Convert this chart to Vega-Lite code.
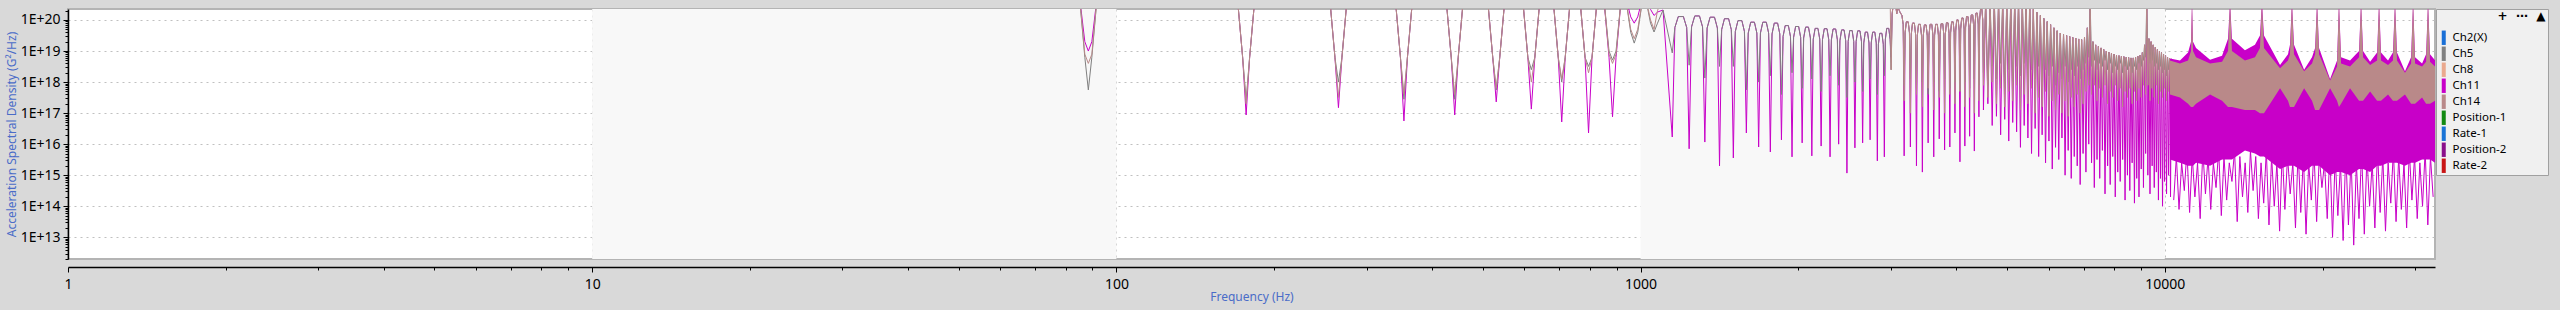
{
"$schema":"https://vega.github.io/schema/vega-lite/v6.json",
"width":2367,"height":250,
"autosize":{"type":"none"},
"padding":{"left":68,"top":9,"right":125,"bottom":51},
"background":"#d9d9d9",
"config":{
 "view":{"fill":"white","stroke":"#b4b4b4","strokeWidth":2},
 "font":"Noto Sans",
 "legend":{"orient":"none","legendX":2368,"legendY":0,"padding":2,"fillColor":"#f0f0f0","strokeColor":"#a0a0a0",
  "titleFont":"DejaVu Sans","titleFontSize":12,"titleColor":"#000","titleFontWeight":"bold","titlePadding":9,
  "labelFont":"Noto Sans","labelFontSize":11.5,"labelColor":"#000","labelOffset":3,
  "symbolType":"M-0.67,-2.4H0.67V2.4H-0.67Z","symbolSize":36,"symbolStrokeWidth":0,"rowPadding":1},
 "axisY":{"orient":"left","tickCount":20,"labelOverlap":false,"labelBound":false,"labelFlush":false,
   "labelExpr":"abs(log(datum.value)/LN10 - round(log(datum.value)/LN10)) < 1e-6 ? '1E+' + round(log(datum.value)/LN10) : ''",
   "tickColor":"#000","domainColor":"#000","domainWidth":1.5,"labelFontSize":14,"labelColor":"#000","labelPadding":3,"labelFont":"Noto Sans",
   "grid":true,"gridColor":"#c0c0c0","gridDash":[2,4],
   "titleColor":"#4a6cc8","titleFontSize":12,"titleFontWeight":"normal","titlePadding":2,"titleFont":"Noto Sans"}
},
"datasets":{
"D":[{"f":10,"f2":100},{"f":1000,"f2":10000}],
"L":[
{"f":84.98,"m":6.3e20,"g":6.3e20,"r":6.3e20},{"f":87.05,"m":2e19,"g":6.3e18,"r":7.9e18},{"f":88.4,"m":1e19,"g":5.6e17,"r":4e18},{"f":89.77,"m":2e19,"g":6.3e18,"r":7.9e18},{"f":91.96,"m":6.3e20,"g":6.3e20,"r":6.3e20},
{"f":169.96,"m":6.3e20,"g":6.3e20,"r":6.3e20},{"f":174.1,"m":6.3e18,"g":6.3e18,"r":6.3e18},{"f":176.8,"m":8.7e16,"g":2.6e17,"r":2e17},{"f":179.54,"m":6.3e18,"g":6.3e18,"r":6.3e18},{"f":183.92,"m":6.3e20,"g":6.3e20,"r":6.3e20},
{"f":254.94,"m":6.3e20,"g":6.3e20,"r":6.3e20},{"f":261.15,"m":6.3e18,"g":6.3e18,"r":6.3e18},{"f":265.2,"m":1.5e17,"g":1e18,"r":3.2e17},{"f":269.31,"m":6.3e18,"g":6.3e18,"r":6.3e18},{"f":275.89,"m":6.3e20,"g":6.3e20,"r":6.3e20},
{"f":339.92,"m":6.3e20,"g":6.3e20,"r":6.3e20},{"f":348.2,"m":6.3e18,"g":6.3e18,"r":6.3e18},{"f":353.6,"m":5.6e16,"g":2.8e17,"r":4e17},{"f":359.08,"m":6.3e18,"g":6.3e18,"r":6.3e18},{"f":367.85,"m":6.3e20,"g":6.3e20,"r":6.3e20},
{"f":424.9,"m":6.3e20,"g":6.3e20,"r":6.3e20},{"f":435.25,"m":6.3e18,"g":6.3e18,"r":6.3e18},{"f":442,"m":8.7e16,"g":2.8e17,"r":4e17},{"f":448.85,"m":6.3e18,"g":6.3e18,"r":6.3e18},{"f":459.81,"m":6.3e20,"g":6.3e20,"r":6.3e20},
{"f":509.87,"m":6.3e20,"g":6.3e20,"r":6.3e20},{"f":522.31,"m":6.3e18,"g":6.3e18,"r":6.3e18},{"f":530.4,"m":2.3e17,"g":5.6e17,"r":6.3e17},{"f":538.62,"m":6.3e18,"g":6.3e18,"r":6.3e18},{"f":551.77,"m":6.3e20,"g":6.3e20,"r":6.3e20},
{"f":594.85,"m":6.3e20,"g":6.3e20,"r":6.3e20},{"f":609.36,"m":6.3e18,"g":6.3e18,"r":6.3e18},{"f":618.8,"m":1.35e17,"g":2.5e18,"r":1e18},{"f":628.39,"m":6.3e18,"g":6.3e18,"r":6.3e18},{"f":643.74,"m":6.3e20,"g":6.3e20,"r":6.3e20},
{"f":679.83,"m":6.3e20,"g":6.3e20,"r":6.3e20},{"f":696.41,"m":6.3e18,"g":6.3e18,"r":6.3e18},{"f":707.2,"m":5.2e16,"g":1e18,"r":1.26e18},{"f":718.16,"m":6.3e18,"g":6.3e18,"r":6.3e18},{"f":735.7,"m":6.3e20,"g":6.3e20,"r":6.3e20},
{"f":764.81,"m":6.3e20,"g":6.3e20,"r":6.3e20},{"f":783.46,"m":6.3e18,"g":6.3e18,"r":6.3e18},{"f":795.6,"m":2.3e16,"g":3.2e18,"r":2e18},{"f":807.93,"m":6.3e18,"g":6.3e18,"r":6.3e18},{"f":827.66,"m":6.3e20,"g":6.3e20,"r":6.3e20},
{"f":849.79,"m":6.3e20,"g":6.3e20,"r":6.3e20},{"f":870.51,"m":6.3e18,"g":1e19,"r":7.9e18},{"f":884,"m":7.6e16,"g":5.1e18,"r":4e18},{"f":897.7,"m":6.3e18,"g":1e19,"r":7.9e18},{"f":919.63,"m":6.3e20,"g":6.3e20,"r":6.3e20},
{"f":934.77,"m":6.3e20,"g":6.3e20,"r":6.3e20},{"f":957.56,"m":1.26e20,"g":4e19,"r":5e19},{"f":972.4,"m":7.9e19,"g":1.8e19,"r":2.5e19},{"f":987.47,"m":1.26e20,"g":4e19,"r":5e19},{"f":1011.59,"m":6.3e20,"g":6.3e20,"r":6.3e20},
{"f":1019.75,"m":6.3e20,"g":6.3e20,"r":6.3e20},{"f":1044.61,"m":2.2e20,"g":7.9e19,"r":1e20},{"f":1060.8,"m":1.4e20,"g":4.1e19,"r":5e19},{"f":1077.2,"m":1.8e20,"g":7.9e19,"r":2e20},{"f":1103.6,"m":2.1e20,"g":2.1e20,"r":6.3e20},
{"f":1149.2,"m":1.7e16,"g":8.7e18,"r":6.3e20},{"f":1162.5,"m":5.75e19,"g":5.75e19,"r":6.3e20},{"f":1180.1,"m":1.29e20,"g":1.29e20,"r":6.3e20},{"f":1206.7,"m":1.29e20,"g":1.29e20,"r":6.3e20},{"f":1224.3,"m":5.75e19,"g":5.75e19,"r":6.3e20},
{"f":1237.6,"m":7.1e15,"g":3.5e18,"r":6.3e20},{"f":1250.9,"m":6.03e19,"g":6.03e19,"r":6.3e20},{"f":1268.5,"m":1.35e20,"g":1.35e20,"r":6.3e20},{"f":1295.1,"m":1.35e20,"g":1.35e20,"r":6.3e20},{"f":1312.7,"m":6.03e19,"g":6.03e19,"r":6.3e20},
{"f":1326,"m":1.17e16,"g":1.35e18,"r":6.3e20},{"f":1339.3,"m":5.5e19,"g":5.5e19,"r":6.3e20},{"f":1356.9,"m":1.23e20,"g":1.23e20,"r":6.3e20},{"f":1383.5,"m":1.23e20,"g":1.23e20,"r":6.3e20},{"f":1401.1,"m":5.5e19,"g":5.5e19,"r":6.3e20},
{"f":1414.4,"m":2e15,"g":3.2e18,"r":6.3e20},{"f":1427.7,"m":4.9e19,"g":4.9e19,"r":6.3e20},{"f":1445.3,"m":1.1e20,"g":1.1e20,"r":6.3e20},{"f":1471.9,"m":1.1e20,"g":1.1e20,"r":6.3e20},{"f":1489.5,"m":4.9e19,"g":4.9e19,"r":6.3e20},
{"f":1502.8,"m":3.6e15,"g":3.2e18,"r":6.3e20},{"f":1516.1,"m":4.27e19,"g":4.27e19,"r":6.3e20},{"f":1533.7,"m":9.55e19,"g":9.55e19,"r":6.3e20},{"f":1560.3,"m":9.55e19,"g":9.55e19,"r":6.3e20},{"f":1577.9,"m":4.27e19,"g":4.27e19,"r":6.3e20},
{"f":1591.2,"m":2.3e16,"g":5.6e17,"r":6.3e20},{"f":1604.5,"m":3.8e19,"g":3.8e19,"r":6.3e20},{"f":1622.1,"m":8.5e19,"g":8.5e19,"r":6.3e20},{"f":1648.7,"m":8.5e19,"g":8.5e19,"r":6.3e20},{"f":1666.3,"m":3.8e19,"g":3.8e19,"r":6.3e20},
{"f":1679.6,"m":8.1e15,"g":1e18,"r":6.3e20},{"f":1692.9,"m":3.8e19,"g":3.8e19,"r":6.3e20},{"f":1710.5,"m":8.5e19,"g":8.5e19,"r":6.3e20},{"f":1737.1,"m":8.5e19,"g":8.5e19,"r":6.3e20},{"f":1754.7,"m":3.8e19,"g":3.8e19,"r":6.3e20},
{"f":1768,"m":5.6e15,"g":1.6e18,"r":6.3e20},{"f":1781.3,"m":3.55e19,"g":3.55e19,"r":6.3e20},{"f":1798.9,"m":7.94e19,"g":7.94e19,"r":6.3e20},{"f":1825.5,"m":7.94e19,"g":7.94e19,"r":6.3e20},{"f":1843.1,"m":3.55e19,"g":3.55e19,"r":6.3e20},
{"f":1856.4,"m":1.38e16,"g":4e17,"r":6.3e20},{"f":1869.7,"m":2.95e19,"g":2.95e19,"r":6.3e20},{"f":1887.3,"m":6.6e19,"g":6.6e19,"r":6.3e20},{"f":1913.9,"m":6.6e19,"g":6.6e19,"r":6.3e20},{"f":1931.5,"m":2.95e19,"g":2.95e19,"r":6.3e20},
{"f":1944.8,"m":3.9e15,"g":2e18,"r":6.3e20},{"f":1958.1,"m":2.75e19,"g":2.75e19,"r":6.3e20},{"f":1975.7,"m":6.17e19,"g":6.17e19,"r":6.3e20},{"f":2002.3,"m":6.17e19,"g":6.17e19,"r":6.3e20},{"f":2019.9,"m":2.75e19,"g":2.75e19,"r":6.3e20},
{"f":2033.2,"m":1.1e16,"g":6.3e17,"r":6.3e20},{"f":2046.5,"m":2.63e19,"g":2.63e19,"r":6.3e20},{"f":2064.1,"m":5.9e19,"g":5.9e19,"r":6.3e20},{"f":2090.7,"m":5.9e19,"g":5.9e19,"r":6.3e20},{"f":2108.3,"m":2.63e19,"g":2.63e19,"r":6.3e20},
{"f":2121.6,"m":4.2e15,"g":1.26e18,"r":6.3e20},{"f":2134.9,"m":2.4e19,"g":2.4e19,"r":6.3e20},{"f":2152.5,"m":5.37e19,"g":5.37e19,"r":6.3e20},{"f":2179.1,"m":5.37e19,"g":5.37e19,"r":6.3e20},{"f":2196.7,"m":2.4e19,"g":2.4e19,"r":6.3e20},
{"f":2210,"m":8.7e15,"g":5e17,"r":6.3e20},{"f":2223.3,"m":2.34e19,"g":2.34e19,"r":6.3e20},{"f":2240.9,"m":5.25e19,"g":5.25e19,"r":6.3e20},{"f":2267.5,"m":5.25e19,"g":5.25e19,"r":6.3e20},{"f":2285.1,"m":2.34e19,"g":2.34e19,"r":6.3e20},
{"f":2298.4,"m":3.9e15,"g":1.6e18,"r":6.3e20},{"f":2311.7,"m":2.29e19,"g":2.29e19,"r":6.3e20},{"f":2329.3,"m":5.13e19,"g":5.13e19,"r":6.3e20},{"f":2355.9,"m":5.13e19,"g":5.13e19,"r":6.3e20},{"f":2373.5,"m":2.29e19,"g":2.29e19,"r":6.3e20},
{"f":2386.8,"m":1e16,"g":7.9e17,"r":6.3e20},{"f":2400.1,"m":2.14e19,"g":2.14e19,"r":6.3e20},{"f":2417.7,"m":4.79e19,"g":4.79e19,"r":6.3e20},{"f":2444.3,"m":4.79e19,"g":4.79e19,"r":6.3e20},{"f":2461.9,"m":2.14e19,"g":2.14e19,"r":6.3e20},
{"f":2475.2,"m":1.17e15,"g":3.2e17,"r":6.3e20},{"f":2488.5,"m":2.04e19,"g":2.04e19,"r":6.3e20},{"f":2506.1,"m":4.57e19,"g":4.57e19,"r":6.3e20},{"f":2532.7,"m":4.57e19,"g":4.57e19,"r":6.3e20},{"f":2550.3,"m":2.04e19,"g":2.04e19,"r":6.3e20},
{"f":2563.6,"m":7.6e15,"g":1e18,"r":6.3e20},{"f":2576.9,"m":2e19,"g":2e19,"r":6.3e20},{"f":2594.5,"m":4.47e19,"g":4.47e19,"r":6.3e20},{"f":2621.1,"m":4.47e19,"g":4.47e19,"r":6.3e20},{"f":2638.7,"m":2e19,"g":2e19,"r":6.3e20},
{"f":2652,"m":1.1e16,"g":5e17,"r":6.3e20},{"f":2665.3,"m":1.82e19,"g":1.82e19,"r":6.3e20},{"f":2682.9,"m":4.07e19,"g":4.07e19,"r":6.3e20},{"f":2709.5,"m":4.07e19,"g":4.07e19,"r":6.3e20},{"f":2727.1,"m":1.82e19,"g":1.82e19,"r":6.3e20},
{"f":2740.4,"m":1.38e16,"g":1.26e18,"r":6.3e20},{"f":2753.7,"m":1.82e19,"g":1.82e19,"r":6.3e20},{"f":2771.3,"m":4.07e19,"g":4.07e19,"r":6.3e20},{"f":2797.9,"m":4.07e19,"g":4.07e19,"r":6.3e20},{"f":2815.5,"m":1.82e19,"g":1.82e19,"r":6.3e20},
{"f":2828.8,"m":2.9e15,"g":4e17,"r":6.3e20},{"f":2842.1,"m":1.66e19,"g":1.66e19,"r":6.3e20},{"f":2859.7,"m":3.72e19,"g":3.72e19,"r":6.3e20},{"f":2886.3,"m":3.72e19,"g":3.72e19,"r":6.3e20},{"f":2903.9,"m":1.66e19,"g":1.66e19,"r":6.3e20},
{"f":2917.2,"m":3.9e15,"g":1.6e18,"r":6.3e20},{"f":2930.5,"m":2.4e19,"g":2.4e19,"r":6.3e20},{"f":2948.1,"m":5.37e19,"g":5.37e19,"r":6.3e20},{"f":2974.7,"m":5.37e19,"g":5.37e19,"r":6.3e20},{"f":2992.3,"m":2.4e19,"g":2.4e19,"r":6.3e20},
{"f":3005.6,"m":6.3e18,"g":2.5e18,"r":2.5e18},{"f":3018.9,"m":1.58e20,"g":1.58e20,"r":1.58e20},{"f":3036.5,"m":3.55e20,"g":3.55e20,"r":3.55e20},{"f":3063.1,"m":3.55e20,"g":3.55e20,"r":3.55e20},{"f":3080.7,"m":1.58e20,"g":1.58e20,"r":1.58e20},
{"f":3094,"m":2.82e20,"g":2.82e20,"r":2.82e20},{"f":3107.3,"m":2.24e20,"g":2.24e20,"r":2.24e20},{"f":3124.9,"m":1.78e20,"g":1.78e20,"r":1.78e20},{"f":3151.5,"m":1.41e20,"g":1.41e20,"r":1.41e20},{"f":3169.1,"m":7.1e19,"g":7.1e19,"r":7.1e19},
{"f":3182.4,"m":4.2e15,"g":7.9e17,"r":2.5e17},{"f":3195.7,"m":3.89e19,"g":3.89e19,"r":3.89e19},{"f":3213.3,"m":8.7e19,"g":8.7e19,"r":8.7e19},{"f":3239.9,"m":8.7e19,"g":8.7e19,"r":8.7e19},{"f":3257.5,"m":3.89e19,"g":3.89e19,"r":3.89e19},
{"f":3270.8,"m":8.1e15,"g":1.26e18,"r":1e17},{"f":3284.1,"m":3.55e19,"g":3.55e19,"r":3.55e19},{"f":3301.7,"m":7.94e19,"g":7.94e19,"r":7.94e19},{"f":3328.3,"m":7.94e19,"g":7.94e19,"r":7.94e19},{"f":3345.9,"m":3.55e19,"g":3.55e19,"r":3.55e19},
{"f":3359.2,"m":2e15,"g":6.3e17,"r":4e17},{"f":3372.5,"m":3.24e19,"g":3.24e19,"r":3.24e19},{"f":3390.1,"m":7.24e19,"g":7.24e19,"r":7.24e19},{"f":3416.7,"m":7.24e19,"g":7.24e19,"r":7.24e19},{"f":3434.3,"m":3.24e19,"g":3.24e19,"r":3.24e19},
{"f":3447.6,"m":1.26e15,"g":1e18,"r":1.6e17},{"f":3460.9,"m":3.09e19,"g":3.09e19,"r":3.09e19},{"f":3478.5,"m":6.92e19,"g":6.92e19,"r":6.92e19},{"f":3505.1,"m":6.92e19,"g":6.92e19,"r":6.92e19},{"f":3522.7,"m":3.09e19,"g":3.09e19,"r":3.09e19},
{"f":3536,"m":1.1e16,"g":4e17,"r":6.3e17},{"f":3549.3,"m":3.24e19,"g":3.24e19,"r":3.24e19},{"f":3566.9,"m":7.24e19,"g":7.24e19,"r":7.24e19},{"f":3593.5,"m":7.24e19,"g":7.24e19,"r":7.24e19},{"f":3611.1,"m":3.24e19,"g":3.24e19,"r":3.24e19},
{"f":3624.4,"m":3.9e15,"g":1e18,"r":1.26e17},{"f":3637.7,"m":3.24e19,"g":3.24e19,"r":3.24e19},{"f":3655.3,"m":7.24e19,"g":7.24e19,"r":7.24e19},{"f":3681.9,"m":7.24e19,"g":7.24e19,"r":7.24e19},{"f":3699.5,"m":3.24e19,"g":3.24e19,"r":3.24e19},
{"f":3712.8,"m":1.48e16,"g":5e17,"r":3.2e17},{"f":3726.1,"m":3.39e19,"g":3.39e19,"r":3.39e19},{"f":3743.7,"m":7.59e19,"g":7.59e19,"r":7.59e19},{"f":3770.3,"m":7.59e19,"g":7.59e19,"r":7.59e19},{"f":3787.9,"m":3.39e19,"g":3.39e19,"r":3.39e19},
{"f":3801.2,"m":6.5e15,"g":1.26e18,"r":1e17},{"f":3814.5,"m":3.63e19,"g":3.63e19,"r":3.63e19},{"f":3832.1,"m":8.13e19,"g":8.13e19,"r":8.13e19},{"f":3858.7,"m":8.13e19,"g":8.13e19,"r":8.13e19},{"f":3876.3,"m":3.63e19,"g":3.63e19,"r":3.63e19},
{"f":3889.6,"m":8.1e15,"g":6.3e17,"r":4e17},{"f":3902.9,"m":3.89e19,"g":3.89e19,"r":3.89e19},{"f":3920.5,"m":8.7e19,"g":8.7e19,"r":8.7e19},{"f":3947.1,"m":8.7e19,"g":8.7e19,"r":8.7e19},{"f":3964.7,"m":3.89e19,"g":3.89e19,"r":3.89e19},
{"f":3978,"m":2.3e16,"g":1e18,"r":2e17},{"f":3991.3,"m":4.47e19,"g":4.47e19,"r":4.47e19},{"f":4008.9,"m":1e20,"g":1e20,"r":1e20},{"f":4035.5,"m":1e20,"g":1e20,"r":1e20},{"f":4053.1,"m":4.47e19,"g":4.47e19,"r":4.47e19},
{"f":4066.4,"m":2.7e15,"g":5e17,"r":5e17},{"f":4079.7,"m":5.13e19,"g":5.13e19,"r":5.13e19},{"f":4097.3,"m":1.15e20,"g":1.15e20,"r":1.15e20},{"f":4123.9,"m":1.15e20,"g":1.15e20,"r":1.15e20},{"f":4141.5,"m":5.13e19,"g":5.13e19,"r":5.13e19},
{"f":4154.8,"m":8.7e15,"g":1e18,"r":1.6e17},{"f":4168.1,"m":5.75e19,"g":5.75e19,"r":5.75e19},{"f":4185.7,"m":1.29e20,"g":1.29e20,"r":1.29e20},{"f":4212.3,"m":1.29e20,"g":1.29e20,"r":1.29e20},{"f":4229.9,"m":5.75e19,"g":5.75e19,"r":5.75e19},
{"f":4243.2,"m":1.8e16,"g":6.3e17,"r":3.2e17},{"f":4256.5,"m":6.46e19,"g":6.46e19,"r":6.46e19},{"f":4274.1,"m":1.45e20,"g":1.45e20,"r":1.45e20},{"f":4300.7,"m":1.45e20,"g":1.45e20,"r":1.45e20},{"f":4318.3,"m":6.46e19,"g":6.46e19,"r":6.46e19},
{"f":4331.6,"m":6e15,"g":1.26e18,"r":1e17},{"f":4344.9,"m":7.41e19,"g":7.41e19,"r":7.41e19},{"f":4362.5,"m":1.66e20,"g":1.66e20,"r":1.66e20},{"f":4389.1,"m":1.66e20,"g":1.66e20,"r":1.66e20},{"f":4406.7,"m":7.41e19,"g":7.41e19,"r":7.41e19},
{"f":4420,"m":7.6e16,"g":7.9e17,"r":2.5e17},{"f":4433.3,"m":1e20,"g":1e20,"r":1e20},{"f":4451,"m":2.24e20,"g":2.24e20,"r":2.24e20},{"f":4477.5,"m":2.24e20,"g":2.24e20,"r":2.24e20},{"f":4495.1,"m":1e20,"g":1e20,"r":1e20},
{"f":4508.4,"m":1.26e17,"g":2e18,"r":7.9e17},{"f":4552.6,"m":4e20,"g":4e20,"r":4e20},
{"f":4596.8,"m":2e17,"g":7.9e17,"r":3.2e17},{"f":4641,"m":4e20,"g":4e20,"r":4e20},
{"f":4685.2,"m":4e16,"g":3.2e18,"r":1e18},{"f":4729.4,"m":4e20,"g":4e20,"r":4e20},
{"f":4773.6,"m":7.9e16,"g":1.26e18,"r":2e17},{"f":4817.8,"m":4e20,"g":4e20,"r":4e20},
{"f":4862,"m":2e16,"g":4e18,"r":6.3e17},{"f":4906.2,"m":4e20,"g":4e20,"r":4e20},
{"f":4950.4,"m":6.3e16,"g":6.3e17,"r":1.58e17},{"f":4994.6,"m":4e20,"g":4e20,"r":4e20},
{"f":5038.8,"m":1.26e16,"g":2.5e18,"r":5e17},{"f":5083,"m":4e20,"g":4e20,"r":4e20},
{"f":5127.2,"m":5e16,"g":1e18,"r":2.5e17},{"f":5171.4,"m":4e20,"g":4e20,"r":4e20},
{"f":5215.6,"m":2.5e16,"g":3.2e18,"r":7.9e17},{"f":5259.8,"m":4e20,"g":4e20,"r":4e20},
{"f":5304,"m":7.9e15,"g":1.58e18,"r":1.26e17},{"f":5348.2,"m":4e20,"g":4e20,"r":4e20},
{"f":5392.4,"m":4e16,"g":4e18,"r":4e17},{"f":5436.6,"m":4e20,"g":4e20,"r":4e20},
{"f":5480.8,"m":1.58e16,"g":7.9e17,"r":2e17},{"f":5525,"m":4e20,"g":4e20,"r":4e20},
{"f":5569.2,"m":5e15,"g":2.5e18,"r":6.3e17},{"f":5613.4,"m":2.24e20,"g":2.24e20,"r":2.24e20},
{"f":5657.6,"m":3.2e16,"g":1.26e18,"r":1e17},{"f":5701.8,"m":1.78e20,"g":1.78e20,"r":1.78e20},
{"f":5746,"m":4e15,"g":3.2e18,"r":3.2e17},{"f":5790.2,"m":1.41e20,"g":1.41e20,"r":1.41e20},
{"f":5834.4,"m":2e16,"g":1e18,"r":1.58e17},{"f":5878.6,"m":1.12e20,"g":1.12e20,"r":1.12e20},
{"f":5922.8,"m":2.5e15,"g":2.5e18,"r":5e17},{"f":5967,"m":8.9e19,"g":8.9e19,"r":8.9e19},
{"f":6011.2,"m":1.26e16,"g":1.58e18,"r":7.9e16},{"f":6055.4,"m":7.1e19,"g":7.1e19,"r":7.1e19},
{"f":6099.6,"m":1.58e15,"g":3.2e18,"r":2.5e17},{"f":6143.8,"m":5.6e19,"g":5.6e19,"r":5.6e19},
{"f":6188,"m":7.9e15,"g":7.9e17,"r":1.26e17},{"f":6232.2,"m":4.5e19,"g":4.5e19,"r":4.5e19},
{"f":6276.4,"m":3.2e15,"g":2e18,"r":4e17},{"f":6320.6,"m":3.8e19,"g":3.8e19,"r":3.8e19},
{"f":6364.8,"m":1.58e16,"g":1.26e18,"r":1e17},{"f":6409,"m":3.47e19,"g":3.47e19,"r":3.47e19},
{"f":6453.2,"m":1e15,"g":3.2e18,"r":2.5e17},{"f":6497.4,"m":3.16e19,"g":3.16e19,"r":3.16e19},
{"f":6541.6,"m":6.3e15,"g":1e18,"r":7.9e16},{"f":6585.8,"m":2.95e19,"g":2.95e19,"r":2.95e19},
{"f":6630,"m":7.9e14,"g":2.5e18,"r":3.2e17},{"f":6674.2,"m":2.75e19,"g":2.75e19,"r":2.75e19},
{"f":6718.4,"m":4e15,"g":1.58e18,"r":1.58e17},{"f":6762.6,"m":2.63e19,"g":2.63e19,"r":2.63e19},
{"f":6806.8,"m":2e15,"g":3.2e18,"r":4e17},{"f":6851,"m":2.45e19,"g":2.45e19,"r":2.45e19},
{"f":6895.2,"m":5e14,"g":1.26e18,"r":1e17},{"f":6939.4,"m":2.34e19,"g":2.34e19,"r":2.34e19},
{"f":6983.6,"m":5e15,"g":2.5e18,"r":2e17},{"f":7027.8,"m":2.82e19,"g":2.82e19,"r":2.82e19},
{"f":7072,"m":1.26e15,"g":4e18,"r":5e17},{"f":7116.2,"m":5.6e19,"g":5.6e19,"r":5.6e19},
{"f":7160.4,"m":1e16,"g":6.3e18,"r":7.9e17},{"f":7204.6,"m":4e20,"g":4e20,"r":4e20},
{"f":7248.8,"m":2.5e15,"g":3.2e18,"r":4e17},{"f":7293,"m":2e19,"g":2e19,"r":2e19},
{"f":7337.2,"m":4e14,"g":5e18,"r":7.9e17},{"f":7381.4,"m":1.58e19,"g":1.58e19,"r":1.58e19},
{"f":7425.6,"m":3.2e15,"g":2.5e18,"r":2.5e17},{"f":7469.8,"m":1.41e19,"g":1.41e19,"r":1.41e19},
{"f":7514,"m":7.9e14,"g":4e18,"r":6.3e17},{"f":7558.2,"m":1.26e19,"g":1.26e19,"r":1.26e19},
{"f":7602.4,"m":6.3e15,"g":3.2e18,"r":3.2e17},{"f":7646.6,"m":1.12e19,"g":1.12e19,"r":1.12e19},
{"f":7690.8,"m":2.5e14,"g":5e18,"r":7.9e17},{"f":7735,"m":1e19,"g":1e19,"r":1e19},
{"f":7779.2,"m":2e15,"g":2.5e18,"r":2e17},{"f":7823.4,"m":9.1e18,"g":9.1e18,"r":9.1e18},
{"f":7867.6,"m":5e14,"g":4e18,"r":5e17},{"f":7911.8,"m":8.5e18,"g":8.5e18,"r":8.5e18},
{"f":7956,"m":4e15,"g":2e18,"r":3.2e17},{"f":8000.2,"m":7.9e18,"g":7.9e18,"r":7.9e18},
{"f":8044.4,"m":2e14,"g":3.2e18,"r":7.9e17},{"f":8088.6,"m":7.4e18,"g":7.4e18,"r":7.4e18},
{"f":8132.8,"m":1.26e15,"g":2.5e18,"r":2.5e17},{"f":8177,"m":7.1e18,"g":7.1e18,"r":7.1e18},
{"f":8221.2,"m":6.3e14,"g":4e18,"r":6.3e17},{"f":8265.4,"m":6.8e18,"g":6.8e18,"r":6.8e18},
{"f":8309.6,"m":3.2e15,"g":2e18,"r":1.58e17},{"f":8353.8,"m":6.6e18,"g":6.6e18,"r":6.6e18},
{"f":8398,"m":1.58e14,"g":3.2e18,"r":5e17},{"f":8442.2,"m":6.3e18,"g":6.3e18,"r":6.3e18},
{"f":8486.4,"m":1e15,"g":2.5e18,"r":3.2e17},{"f":8530.6,"m":6.2e18,"g":6.2e18,"r":6.2e18},
{"f":8574.8,"m":3.2e14,"g":3.2e18,"r":6.3e17},{"f":8619,"m":6e18,"g":6e18,"r":6e18},
{"f":8663.2,"m":2.5e15,"g":2e18,"r":2e17},{"f":8707.4,"m":6e18,"g":6e18,"r":6e18},
{"f":8751.6,"m":1.26e14,"g":3.2e18,"r":5e17},{"f":8795.8,"m":6.3e18,"g":6.3e18,"r":6.3e18},
{"f":8840,"m":7.9e14,"g":2.5e18,"r":2.5e17},{"f":8884.2,"m":6.8e18,"g":6.8e18,"r":6.8e18},
{"f":8928.4,"m":2e14,"g":4e18,"r":6.3e17},{"f":8972.6,"m":7.4e18,"g":7.4e18,"r":7.4e18},
{"f":9016.8,"m":1.58e15,"g":3.2e18,"r":3.2e17},{"f":9061,"m":8.9e18,"g":8.9e18,"r":8.9e18},
{"f":9105.2,"m":4e14,"g":5e18,"r":7.9e17},{"f":9149.4,"m":1.58e19,"g":1.58e19,"r":1.58e19},
{"f":9193.6,"m":5e15,"g":6.3e18,"r":4e17},{"f":9237.8,"m":4e20,"g":4e20,"r":4e20},
{"f":9282,"m":1e15,"g":5e18,"r":7.9e17},{"f":9326.2,"m":2.5e19,"g":2.5e19,"r":2.5e19},
{"f":9370.4,"m":2.5e14,"g":4e18,"r":2.5e17},{"f":9414.6,"m":2e19,"g":2e19,"r":2e19},
{"f":9458.8,"m":2e15,"g":5e18,"r":6.3e17},{"f":9503,"m":1.58e19,"g":1.58e19,"r":1.58e19},
{"f":9547.2,"m":4e14,"g":3.2e18,"r":3.2e17},{"f":9591.4,"m":1.32e19,"g":1.32e19,"r":1.32e19},
{"f":9635.6,"m":1.26e15,"g":4e18,"r":7.9e17},{"f":9679.8,"m":1.12e19,"g":1.12e19,"r":1.12e19},
{"f":9724,"m":1.58e14,"g":2.5e18,"r":2e17},{"f":9768.2,"m":1e19,"g":1e19,"r":1e19},
{"f":9812.4,"m":7.9e14,"g":3.2e18,"r":5e17},{"f":9856.6,"m":8.9e18,"g":8.9e18,"r":8.9e18},
{"f":9900.8,"m":1e14,"g":2e18,"r":3.2e17},{"f":9945,"m":7.9e18,"g":7.9e18,"r":7.9e18},
{"f":9989.2,"m":6.3e14,"g":2.5e18,"r":6.3e17},{"f":10033.4,"m":7.1e18,"g":7.1e18,"r":7.1e18},
{"f":10077.6,"m":2.5e14,"g":1.58e18,"r":2.5e17},{"f":10121.8,"m":6.3e18,"g":6.3e18,"r":6.3e18},
{"f":10166,"m":1e15,"g":2.5e18,"r":5e17},{"f":10210.2,"m":5.9e18,"g":5.9e18,"r":5.9e18},
{"f":10254.4,"m":2e14,"g":2e18,"r":3.2e17},{"f":10298.6,"m":5.6e18,"g":5.6e18,"r":5.6e18}
],
"S":[
{"f":10400,"v":1.58e14},{"f":10522,"v":4e15},{"f":10645,"v":7.9e13},{"f":10769,"v":2.5e15},{"f":10895,"v":3.2e14},{"f":11022,"v":6.3e15},{"f":11150,"v":6.3e13},{"f":11280,"v":4e15},
{"f":11413,"v":2e14},{"f":11547,"v":2.5e15},{"f":11681,"v":4e13},{"f":11818,"v":6.3e15},{"f":11955,"v":2.5e14},{"f":12095,"v":4e15},{"f":12236,"v":7.9e13},{"f":12379,"v":2.5e15},
{"f":12524,"v":4e14},{"f":12671,"v":6.3e15},{"f":12818,"v":5e13},{"f":12968,"v":4e15},{"f":13122,"v":1.58e14},{"f":13275,"v":2.5e15},{"f":13430,"v":6.3e14},{"f":13587,"v":6.3e15},
{"f":13745,"v":3.2e13},{"f":13906,"v":4e15},{"f":14068,"v":2e14},{"f":14233,"v":2.5e15},{"f":14399,"v":6.3e13},{"f":14567,"v":6.3e15},{"f":14738,"v":3.2e14},{"f":14910,"v":4e15},
{"f":15085,"v":4e13},{"f":15261,"v":2.5e15},{"f":15440,"v":1.26e14},{"f":15621,"v":6.3e15},{"f":15803,"v":2.5e13},{"f":15988,"v":4e15},{"f":16174,"v":1e14},{"f":16363,"v":2.5e15},
{"f":16558,"v":1.58e13},{"f":16752,"v":6.3e15},{"f":16946,"v":7.9e13},{"f":17144,"v":4e15},{"f":17346,"v":2.5e14},{"f":17549,"v":2.5e15},{"f":17753,"v":2e13},{"f":17961,"v":6.3e15},
{"f":18170,"v":6.3e13},{"f":18383,"v":4e15},{"f":18597,"v":1.26e13},{"f":18815,"v":2.5e15},{"f":19034,"v":1.58e14},{"f":19257,"v":6.3e15},{"f":19482,"v":3.2e13},{"f":19710,"v":4e15},
{"f":19940,"v":4e14},{"f":20173,"v":2.5e15},{"f":20410,"v":4e13},{"f":20649,"v":6.3e15},{"f":20893,"v":1e13},{"f":21137,"v":4e15},{"f":21385,"v":5e13},{"f":21635,"v":2.5e15},
{"f":21887,"v":7.9e12},{"f":22143,"v":6.3e15},{"f":22403,"v":2.5e13},{"f":22665,"v":4e15},{"f":22929,"v":5.6e12},{"f":23197,"v":2.5e15},{"f":23467,"v":4e13},{"f":23742,"v":6.3e15},
{"f":24020,"v":1.26e13},{"f":24301,"v":4e15},{"f":24584,"v":1e14},{"f":24872,"v":2.5e15},{"f":25162,"v":2e13},{"f":25456,"v":6.3e15},{"f":25754,"v":6.3e13},{"f":26055,"v":4e15},
{"f":26363,"v":1.58e13},{"f":26671,"v":2.5e15},{"f":26982,"v":1.26e14},{"f":27298,"v":6.3e15},{"f":27616,"v":3.2e13},{"f":27939,"v":4e15},{"f":28266,"v":7.9e13},{"f":28597,"v":2.5e15},
{"f":28930,"v":2e13},{"f":29268,"v":6.3e15},{"f":29610,"v":1.58e14},{"f":29956,"v":4e15},{"f":30307,"v":4e13},{"f":30661,"v":2.5e15},{"f":31020,"v":1e14},{"f":31383,"v":6.3e15},
{"f":31750,"v":2.5e13},{"f":32121,"v":4e15},{"f":32500,"v":2e14}
],
"A":[
{"f":10230,"mh":5.75e18,"rh":5e18,"rl":4e17,"ml":3.2e15},
{"f":10690,"mh":5e18,"rh":4e18,"rl":3.2e17,"ml":2.5e15},
{"f":11075,"mh":8.9e18,"rh":5e18,"rl":2e17,"ml":2e15},
{"f":11220,"mh":2e19,"rh":1e19,"rl":1.58e17,"ml":2e15},
{"f":11270,"mh":4e20,"rh":4e20,"rl":1.58e17,"ml":2e15},
{"f":11320,"mh":2e19,"rh":1e19,"rl":1.58e17,"ml":2e15},
{"f":11470,"mh":1.26e19,"rh":6.3e18,"rl":2e17,"ml":2.5e15},
{"f":12200,"mh":5.25e18,"rh":4e18,"rl":4e17,"ml":2e15},
{"f":12860,"mh":7.1e18,"rh":4.5e18,"rl":2.5e17,"ml":3.2e15},
{"f":13200,"mh":2.5e19,"rh":1e19,"rl":1.58e17,"ml":3.2e15},
{"f":13320,"mh":4e20,"rh":4e20,"rl":1.58e17,"ml":3.2e15},
{"f":13430,"mh":2.5e19,"rh":1e19,"rl":1.58e17,"ml":3.2e15},
{"f":14220,"mh":1.07e19,"rh":5e18,"rl":1.26e17,"ml":6.3e15},
{"f":14860,"mh":1.58e19,"rh":6.3e18,"rl":1.26e17,"ml":5e15},
{"f":15190,"mh":3.16e19,"rh":1.26e19,"rl":1e17,"ml":4e15},
{"f":15320,"mh":4e20,"rh":4e20,"rl":1e17,"ml":4e15},
{"f":15460,"mh":3.16e19,"rh":1.26e19,"rl":1e17,"ml":4e15},
{"f":16590,"mh":3.55e18,"rh":2.8e18,"rl":6.3e17,"ml":1.58e15},
{"f":17180,"mh":7.9e18,"rh":5e18,"rl":2.5e17,"ml":2e15},
{"f":17330,"mh":1.58e19,"rh":7.9e18,"rl":1.58e17,"ml":2e15},
{"f":17480,"mh":4e20,"rh":4e20,"rl":1.58e17,"ml":2e15},
{"f":17640,"mh":1.58e19,"rh":7.9e18,"rl":1.58e17,"ml":2e15},
{"f":18440,"mh":2.5e18,"rh":2.24e18,"rl":6.3e17,"ml":1.26e15},
{"f":19090,"mh":6.3e18,"rh":4e18,"rl":2.5e17,"ml":2e15},
{"f":19350,"mh":1.26e19,"rh":7.9e18,"rl":1.26e17,"ml":2e15},
{"f":19520,"mh":4e20,"rh":4e20,"rl":1.26e17,"ml":2e15},
{"f":19690,"mh":1.26e19,"rh":7.9e18,"rl":1.26e17,"ml":2e15},
{"f":20670,"mh":1.26e18,"rh":1.12e18,"rl":6.3e17,"ml":1e15},
{"f":21310,"mh":5e18,"rh":3.2e18,"rl":2.5e17,"ml":1.26e15},
{"f":21490,"mh":4e20,"rh":4e20,"rl":1.58e17,"ml":1.26e15},
{"f":21690,"mh":6.3e18,"rh":4e18,"rl":2e17,"ml":1.26e15},
{"f":22560,"mh":5e18,"rh":3.2e18,"rl":6.3e17,"ml":1e15},
{"f":23470,"mh":1e19,"rh":6.3e18,"rl":2.5e17,"ml":1.58e15},
{"f":23680,"mh":4e20,"rh":4e20,"rl":2.5e17,"ml":1.58e15},
{"f":23890,"mh":1e19,"rh":6.3e18,"rl":2.5e17,"ml":1.58e15},
{"f":24640,"mh":4.5e18,"rh":3.55e18,"rl":5e17,"ml":1.26e15},
{"f":25410,"mh":8.9e18,"rh":5e18,"rl":2.5e17,"ml":2e15},
{"f":25630,"mh":4e20,"rh":4e20,"rl":2.5e17,"ml":2e15},
{"f":25850,"mh":8.9e18,"rh":5e18,"rl":2.5e17,"ml":2e15},
{"f":26660,"mh":5e18,"rh":3.55e18,"rl":4e17,"ml":2.5e15},
{"f":27240,"mh":8.9e18,"rh":5e18,"rl":2.5e17,"ml":2.5e15},
{"f":27490,"mh":4e20,"rh":4e20,"rl":2.5e17,"ml":2.5e15},
{"f":27730,"mh":8.9e18,"rh":5e18,"rl":2.5e17,"ml":2.5e15},
{"f":28720,"mh":2.24e18,"rh":2e18,"rl":4e17,"ml":2e15},
{"f":29500,"mh":6.3e18,"rh":4e18,"rl":2e17,"ml":2.5e15},
{"f":29760,"mh":4e20,"rh":4e20,"rl":2e17,"ml":2.5e15},
{"f":30020,"mh":6.3e18,"rh":4e18,"rl":2e17,"ml":2.5e15},
{"f":30960,"mh":4e18,"rh":3.2e18,"rl":3.2e17,"ml":3.2e15},
{"f":31510,"mh":7.9e18,"rh":4.5e18,"rl":2e17,"ml":3.2e15},
{"f":31780,"mh":4e20,"rh":4e20,"rl":2e17,"ml":3.2e15},
{"f":32060,"mh":7.9e18,"rh":4.5e18,"rl":2e17,"ml":3.2e15},
{"f":32770,"mh":5e18,"rh":3.2e18,"rl":2.5e17,"ml":2.5e15}
]
},
"encoding":{"x":{"field":"f","type":"quantitative","scale":{"type":"log","domain":[1,32768]},
 "axis":{"orient":"bottom","offset":8,"tickCount":20,"labelOverlap":false,"labelBound":false,"labelFlush":false,
  "labelExpr":"abs(log(datum.value)/LN10 - round(log(datum.value)/LN10)) < 1e-6 ? format(datum.value, 'd') : ''",
  "tickSize":{"condition":{"test":"abs(log(datum.value)/LN10 - round(log(datum.value)/LN10)) < 1e-6","value":5},"value":3},
  "tickColor":"#000","domainColor":"#000","domainWidth":1.5,"labelFontSize":14,"labelColor":"#000","labelPadding":5,"labelFont":"Noto Sans",
  "grid":true,"gridOpacity":{"condition":{"test":"abs(log(datum.value)/LN10 - round(log(datum.value)/LN10)) < 1e-6 && datum.value > 1.5","value":1},"value":0},
  "gridColor":"#c0c0c0","gridDash":[2,4],
  "title":"Frequency (Hz)","titleColor":"#4a6cc8","titleFontSize":12,"titleFontWeight":"normal","titlePadding":0,"titleFont":"Noto Sans"}}},
"layer":[
{"data":{"name":"D"},"mark":{"type":"rect","fill":"#f8f8f8"},"encoding":{"x2":{"field":"f2"}}},
{"data":{"name":"L"},"mark":{"type":"line","clip":true,"strokeWidth":1},
 "encoding":{"y":{"field":"m","type":"quantitative","title":"Acceleration Spectral Density (G²/Hz)","scale":{"type":"log","domain":[2e12,2.26e20]},
  "axis":{"tickSize":{"condition":{"test":"abs(log(datum.value)/LN10 - round(log(datum.value)/LN10)) < 1e-6","value":5},"value":3},"gridOpacity":{"condition":{"test":"abs(log(datum.value)/LN10 - round(log(datum.value)/LN10)) < 1e-6","value":1},"value":0}}},
  "color":{"datum":"Ch11","type":"nominal","title":"\u2800\u00a0\u00a0\u00a0\u00a0\u00a0\u00a0\u00a0\u00a0\u00a0\u00a0\u00a0\u00a0+\u00a0\u00a0⋯\u00a0\u00a0▲",
   "scale":{"domain":["Ch2(X)","Ch5","Ch8","Ch11","Ch14","Position-1","Rate-1","Position-2","Rate-2"],"range":["#1a6fd6","#808080","#eaa98e","#c800c8","#b98989","#138a13","#1a74d6","#8a0f8a","#c81414"]},
   "legend":{"encode":{"symbols":{"update":{"fill":{"scale":"color","field":"value"},"stroke":{"value":"transparent"},"opacity":{"value":1}}}}}}}},
{"data":{"name":"L"},"mark":{"type":"line","clip":true,"strokeWidth":1},
 "encoding":{"y":{"field":"g","type":"quantitative","title":"Acceleration Spectral Density (G²/Hz)","scale":{"type":"log","domain":[2e12,2.26e20]},
  "axis":{"tickSize":{"condition":{"test":"abs(log(datum.value)/LN10 - round(log(datum.value)/LN10)) < 1e-6","value":5},"value":3},"gridOpacity":{"condition":{"test":"abs(log(datum.value)/LN10 - round(log(datum.value)/LN10)) < 1e-6","value":1},"value":0}}},
  "color":{"datum":"Ch5","type":"nominal","title":"\u2800\u00a0\u00a0\u00a0\u00a0\u00a0\u00a0\u00a0\u00a0\u00a0\u00a0\u00a0\u00a0+\u00a0\u00a0⋯\u00a0\u00a0▲",
   "scale":{"domain":["Ch2(X)","Ch5","Ch8","Ch11","Ch14","Position-1","Rate-1","Position-2","Rate-2"],"range":["#1a6fd6","#808080","#eaa98e","#c800c8","#b98989","#138a13","#1a74d6","#8a0f8a","#c81414"]},
   "legend":{"encode":{"symbols":{"update":{"fill":{"scale":"color","field":"value"},"stroke":{"value":"transparent"},"opacity":{"value":1}}}}}}}},
{"data":{"name":"L"},"mark":{"type":"line","clip":true,"strokeWidth":1},
 "encoding":{"y":{"field":"r","type":"quantitative","title":"Acceleration Spectral Density (G²/Hz)","scale":{"type":"log","domain":[2e12,2.26e20]},
  "axis":{"tickSize":{"condition":{"test":"abs(log(datum.value)/LN10 - round(log(datum.value)/LN10)) < 1e-6","value":5},"value":3},"gridOpacity":{"condition":{"test":"abs(log(datum.value)/LN10 - round(log(datum.value)/LN10)) < 1e-6","value":1},"value":0}}},
  "color":{"datum":"Ch14","type":"nominal","title":"\u2800\u00a0\u00a0\u00a0\u00a0\u00a0\u00a0\u00a0\u00a0\u00a0\u00a0\u00a0\u00a0+\u00a0\u00a0⋯\u00a0\u00a0▲",
   "scale":{"domain":["Ch2(X)","Ch5","Ch8","Ch11","Ch14","Position-1","Rate-1","Position-2","Rate-2"],"range":["#1a6fd6","#808080","#eaa98e","#c800c8","#b98989","#138a13","#1a74d6","#8a0f8a","#c81414"]},
   "legend":{"encode":{"symbols":{"update":{"fill":{"scale":"color","field":"value"},"stroke":{"value":"transparent"},"opacity":{"value":1}}}}}}}},
{"data":{"name":"S"},"mark":{"type":"line","clip":true,"strokeWidth":1},
 "encoding":{"y":{"field":"v","type":"quantitative","title":"Acceleration Spectral Density (G²/Hz)","scale":{"type":"log","domain":[2e12,2.26e20]},
  "axis":{"tickSize":{"condition":{"test":"abs(log(datum.value)/LN10 - round(log(datum.value)/LN10)) < 1e-6","value":5},"value":3},"gridOpacity":{"condition":{"test":"abs(log(datum.value)/LN10 - round(log(datum.value)/LN10)) < 1e-6","value":1},"value":0}}},
  "color":{"datum":"Ch11","type":"nominal","title":"\u2800\u00a0\u00a0\u00a0\u00a0\u00a0\u00a0\u00a0\u00a0\u00a0\u00a0\u00a0\u00a0+\u00a0\u00a0⋯\u00a0\u00a0▲",
   "scale":{"domain":["Ch2(X)","Ch5","Ch8","Ch11","Ch14","Position-1","Rate-1","Position-2","Rate-2"],"range":["#1a6fd6","#808080","#eaa98e","#c800c8","#b98989","#138a13","#1a74d6","#8a0f8a","#c81414"]},
   "legend":{"encode":{"symbols":{"update":{"fill":{"scale":"color","field":"value"},"stroke":{"value":"transparent"},"opacity":{"value":1}}}}}}}},
{"data":{"name":"A"},"mark":{"type":"area","clip":true},
 "encoding":{"y":{"field":"ml","type":"quantitative","title":"Acceleration Spectral Density (G²/Hz)","scale":{"type":"log","domain":[2e12,2.26e20]},
  "axis":{"tickSize":{"condition":{"test":"abs(log(datum.value)/LN10 - round(log(datum.value)/LN10)) < 1e-6","value":5},"value":3},"gridOpacity":{"condition":{"test":"abs(log(datum.value)/LN10 - round(log(datum.value)/LN10)) < 1e-6","value":1},"value":0}}},
  "y2":{"field":"mh"},
  "color":{"datum":"Ch11","type":"nominal","title":"\u2800\u00a0\u00a0\u00a0\u00a0\u00a0\u00a0\u00a0\u00a0\u00a0\u00a0\u00a0\u00a0+\u00a0\u00a0⋯\u00a0\u00a0▲",
   "scale":{"domain":["Ch2(X)","Ch5","Ch8","Ch11","Ch14","Position-1","Rate-1","Position-2","Rate-2"],"range":["#1a6fd6","#808080","#eaa98e","#c800c8","#b98989","#138a13","#1a74d6","#8a0f8a","#c81414"]},
   "legend":{"encode":{"symbols":{"update":{"fill":{"scale":"color","field":"value"},"stroke":{"value":"transparent"},"opacity":{"value":1}}}}}}}},
{"data":{"name":"A"},"mark":{"type":"area","clip":true},
 "encoding":{"y":{"field":"rl","type":"quantitative","title":"Acceleration Spectral Density (G²/Hz)","scale":{"type":"log","domain":[2e12,2.26e20]},
  "axis":{"tickSize":{"condition":{"test":"abs(log(datum.value)/LN10 - round(log(datum.value)/LN10)) < 1e-6","value":5},"value":3},"gridOpacity":{"condition":{"test":"abs(log(datum.value)/LN10 - round(log(datum.value)/LN10)) < 1e-6","value":1},"value":0}}},
  "y2":{"field":"rh"},
  "color":{"datum":"Ch14","type":"nominal","title":"\u2800\u00a0\u00a0\u00a0\u00a0\u00a0\u00a0\u00a0\u00a0\u00a0\u00a0\u00a0\u00a0+\u00a0\u00a0⋯\u00a0\u00a0▲",
   "scale":{"domain":["Ch2(X)","Ch5","Ch8","Ch11","Ch14","Position-1","Rate-1","Position-2","Rate-2"],"range":["#1a6fd6","#808080","#eaa98e","#c800c8","#b98989","#138a13","#1a74d6","#8a0f8a","#c81414"]},
   "legend":{"encode":{"symbols":{"update":{"fill":{"scale":"color","field":"value"},"stroke":{"value":"transparent"},"opacity":{"value":1}}}}}}}}
]
}
